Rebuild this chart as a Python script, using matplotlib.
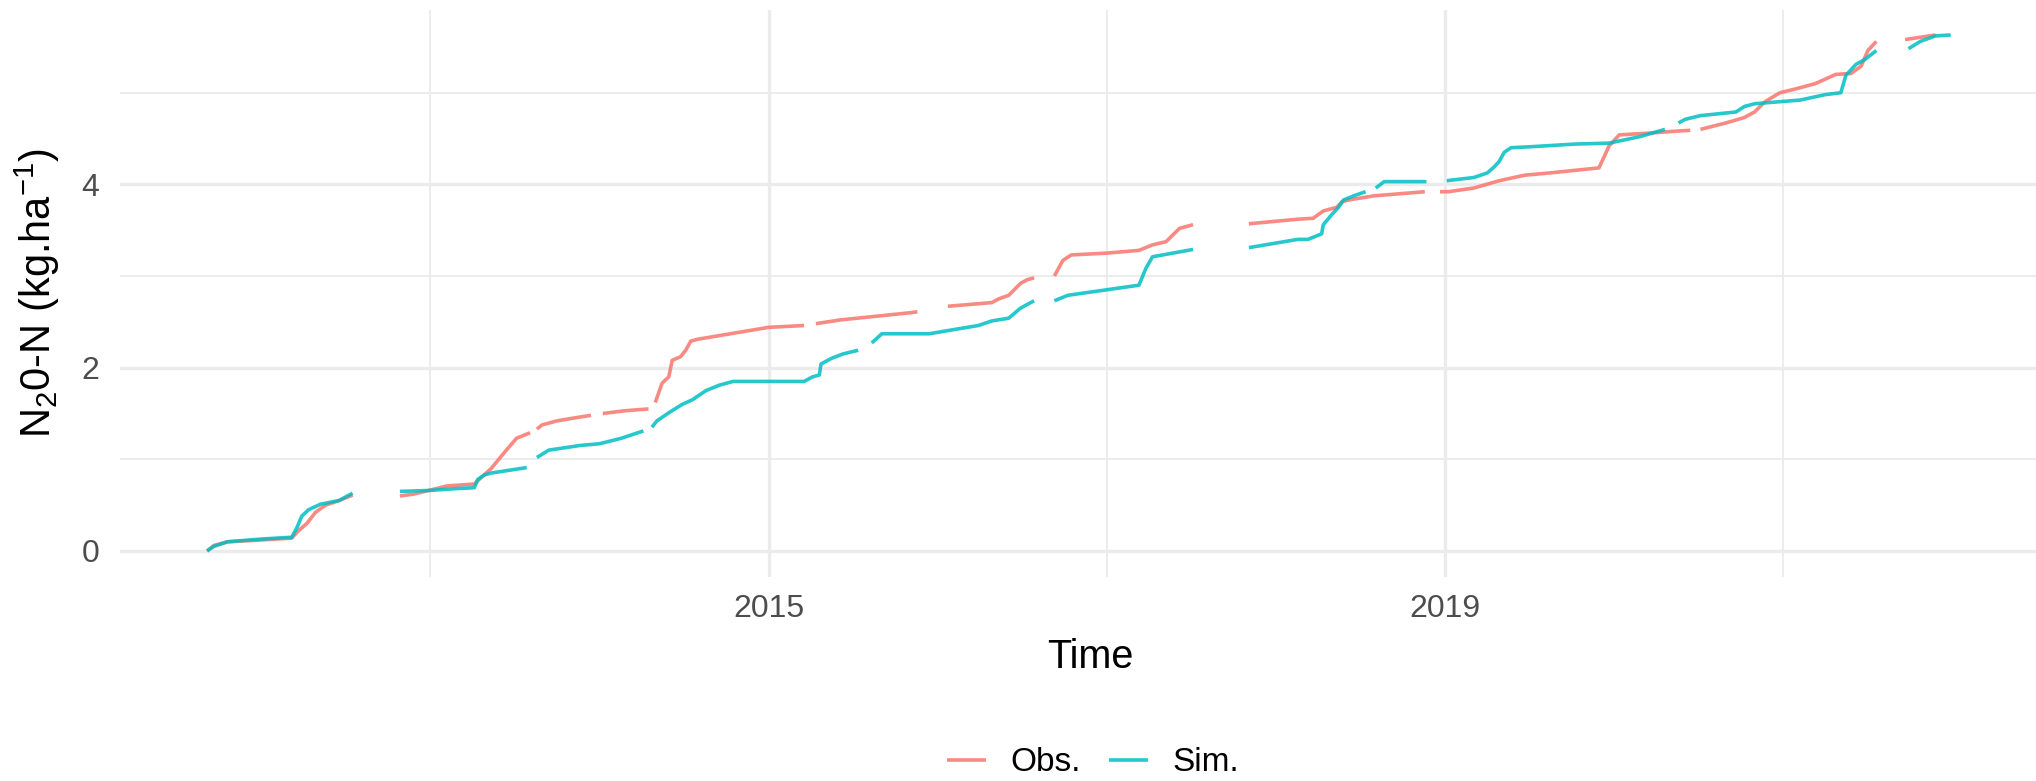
import numpy as np
import matplotlib
matplotlib.use("Agg")
import matplotlib.pyplot as plt

plt.rcParams['font.family'] = ['Liberation Sans', 'DejaVu Sans']
plt.rcParams['mathtext.default'] = 'regular'

nan = np.nan

# cumulative N2O-N emissions, time in decimal years (nan = missing data)
obs_time = [2011.68, 2011.72, 2011.80, 2012.00, 2012.18, 2012.22, 2012.27, 2012.32, 2012.38, 2012.46,
            2012.54, 2012.55, 2012.82, 2012.90, 2012.99, 2013.10, 2013.26, 2013.30, 2013.36, 2013.44,
            2013.51, 2013.59, 2013.61, 2013.63, 2013.66, 2013.75, 2013.88, 2013.95, 2013.98, 2014.02,
            2014.15, 2014.29, 2014.31, 2014.33, 2014.37, 2014.41, 2014.43, 2014.48, 2014.51, 2014.54,
            2014.58, 2014.79, 2015.00, 2015.21, 2015.25, 2015.28, 2015.42, 2015.63, 2015.84, 2015.88,
            2015.91, 2016.06, 2016.32, 2016.36, 2016.42, 2016.49, 2016.53, 2016.57, 2016.60, 2016.69,
            2016.74, 2016.79, 2017.00, 2017.19, 2017.27, 2017.35, 2017.43, 2017.51, 2017.52, 2017.84,
            2018.13, 2018.22, 2018.28, 2018.36, 2018.39, 2018.43, 2018.58, 2018.88, 2018.90, 2018.97,
            2019.02, 2019.17, 2019.32, 2019.47, 2019.62, 2019.91, 2019.97, 2020.03, 2020.21, 2020.36,
            2020.45, 2020.48, 2020.51, 2020.66, 2020.77, 2020.83, 2020.89, 2020.98, 2021.07, 2021.19,
            2021.25, 2021.31, 2021.40, 2021.46, 2021.50, 2021.55, 2021.60, 2021.72, 2021.90]
obs_val = [0.00, 0.06, 0.10, 0.12, 0.14, 0.22, 0.30, 0.42, 0.50, 0.55,
           0.61, nan, 0.60, 0.62, 0.66, 0.71, 0.73, 0.80, 0.90, 1.08,
           1.23, 1.29, nan, 1.33, 1.375, 1.42, 1.46, 1.48, nan, 1.50,
           1.53, 1.55, nan, 1.62, 1.83, 1.90, 2.08, 2.12, 2.19, 2.29,
           2.31, 2.375, 2.44, 2.46, nan, 2.48, 2.52, 2.56, 2.60, 2.61,
           nan, 2.67, 2.71, 2.75, 2.79, 2.92, 2.96, 2.98, nan, 3.00,
           3.17, 3.23, 3.25, 3.28, 3.34, 3.375, 3.52, 3.56, nan, 3.57,
           3.62, 3.63, 3.71, 3.75, 3.81, 3.83, 3.875, 3.92, nan, 3.92,
           3.92, 3.96, 4.04, 4.10, 4.125, 4.18, 4.42, 4.54, 4.56, 4.58,
           4.59, nan, 4.60, 4.67, 4.73, 4.79, 4.90, 5.00, 5.04, 5.10,
           5.15, 5.20, 5.21, 5.29, 5.46, 5.56, nan, 5.58, 5.63]

sim_time = [2011.68, 2011.72, 2011.80, 2012.00, 2012.18, 2012.21, 2012.24, 2012.28, 2012.35, 2012.46,
            2012.54, 2012.55, 2012.82, 2012.99, 2013.15, 2013.26, 2013.28, 2013.32, 2013.36, 2013.57,
            2013.60, 2013.63, 2013.70, 2013.88, 2014.00, 2014.13, 2014.26, 2014.28, 2014.31, 2014.34,
            2014.42, 2014.49, 2014.55, 2014.63, 2014.71, 2014.79, 2015.21, 2015.26, 2015.30, 2015.31,
            2015.37, 2015.44, 2015.53, 2015.56, 2015.61, 2015.67, 2015.95, 2016.11, 2016.24, 2016.32,
            2016.42, 2016.49, 2016.57, 2016.60, 2016.69, 2016.77, 2017.00, 2017.19, 2017.23, 2017.27,
            2017.51, 2017.52, 2017.84, 2018.13, 2018.19, 2018.27, 2018.28, 2018.33, 2018.37, 2018.40,
            2018.46, 2018.53, 2018.55, 2018.59, 2018.64, 2018.89, 2018.91, 2019.01, 2019.17, 2019.25,
            2019.29, 2019.32, 2019.35, 2019.39, 2019.50, 2019.77, 2019.97, 2020.15, 2020.30, 2020.35,
            2020.38, 2020.42, 2020.51, 2020.72, 2020.77, 2020.83, 2021.10, 2021.25, 2021.34, 2021.37,
            2021.43, 2021.48, 2021.55, 2021.60, 2021.74, 2021.81, 2021.90, 2021.99]
sim_val = [0.00, 0.05, 0.10, 0.13, 0.15, 0.25, 0.38, 0.45, 0.51, 0.55,
           0.63, nan, 0.65, 0.66, 0.68, 0.69, 0.78, 0.83, 0.85, 0.91,
           nan, 1.02, 1.10, 1.15, 1.17, 1.23, 1.31, nan, 1.35, 1.42,
           1.52, 1.60, 1.65, 1.75, 1.81, 1.85, 1.85, 1.90, 1.92, 2.04,
           2.10, 2.15, 2.19, nan, 2.27, 2.37, 2.37, 2.42, 2.46, 2.51,
           2.54, 2.65, 2.73, nan, 2.73, 2.79, 2.85, 2.90, 3.08, 3.21,
           3.29, nan, 3.31, 3.40, 3.40, 3.46, 3.56, 3.67, 3.75, 3.83,
           3.875, 3.92, nan, 3.96, 4.03, 4.03, nan, 4.04, 4.075, 4.125,
           4.19, 4.25, 4.35, 4.40, 4.41, 4.44, 4.45, 4.52, 4.60, nan,
           4.67, 4.71, 4.75, 4.79, 4.85, 4.88, 4.92, 4.98, 5.00, 5.19,
           5.31, 5.36, 5.46, nan, 5.48, 5.56, 5.62, 5.63]

series_names = ["Obs.", "Sim."]
series_colors = ["#F8766D", "#00BFC4"]

W, H = 2036, 781
fig = plt.figure(figsize=(W / 100, H / 100), dpi=100)
# panel runs a little past the right edge of the image, as in the reference
ax = fig.add_axes([120 / W, 1 - 577 / H, (2060 - 120) / W, (577 - 9.6) / H])

ax.plot(obs_time, obs_val, color=series_colors[0], lw=2.6, alpha=0.85, label=series_names[0],
        solid_capstyle='butt')
ax.plot(sim_time, sim_val, color=series_colors[1], lw=2.6, alpha=0.85, label=series_names[1],
        solid_capstyle='butt')

ax.set_xlim(2011.165, 2022.636)
ax.set_ylim(-0.284, 5.907)

ax.set_xticks([2015, 2019])
ax.set_xticklabels(["2015", "2019"])
ax.set_xticks([2013, 2017, 2021], minor=True)
ax.set_yticks([0, 2, 4])
ax.set_yticks([1, 3, 5], minor=True)

ax.grid(which='major', color='#EBEBEB', lw=2.4)
ax.grid(which='minor', color='#EBEBEB', lw=1.3)
ax.set_axisbelow(True)
for s in ax.spines.values():
    s.set_visible(False)
ax.tick_params(which='both', length=0)
ax.tick_params(axis='x', labelsize=23, labelcolor='#4D4D4D', pad=12)
ax.tick_params(axis='y', labelsize=23, labelcolor='#4D4D4D', pad=15)

ax.set_xlabel("Time", fontsize=28.5, labelpad=10)
ax.set_ylabel(r"N$_2$0-N (kg.ha$^{-1}$)", fontsize=30)
ax.yaxis.set_label_coords((62 - 120) / (2060 - 120), 0.5)

handles, labels = ax.get_legend_handles_labels()
fig.legend(handles, labels, loc='lower center', bbox_to_anchor=(0.537, -0.035), ncol=2,
           frameon=False, fontsize=24, handlelength=1.15, handletextpad=0.75, columnspacing=0.85)

fig.savefig("out.png", dpi=100, facecolor='white')
